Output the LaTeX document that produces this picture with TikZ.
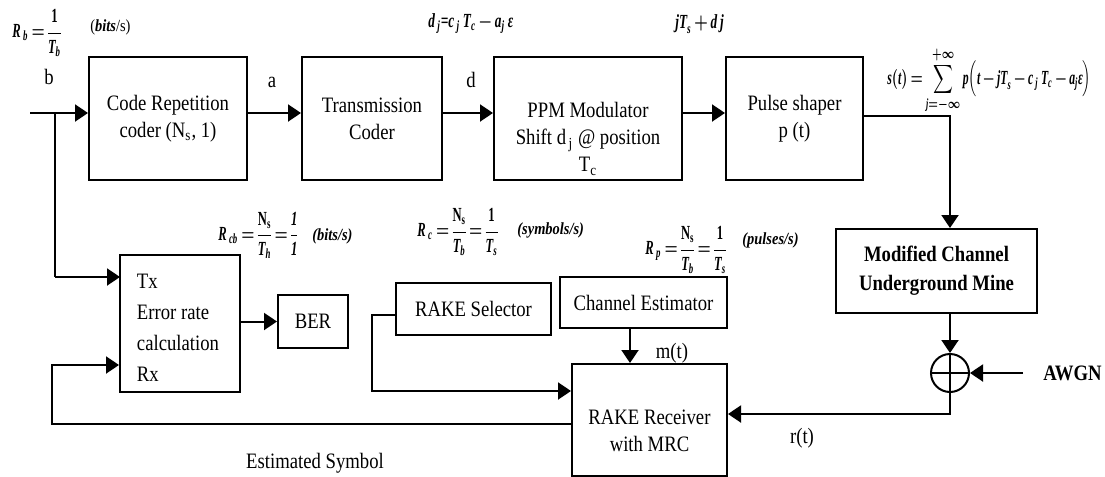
\documentclass[tikz,border=0pt]{standalone}
\usepackage{amsmath}
\usepackage{graphicx}
\usepackage{fontspec}
\setmainfont{Liberation Serif}[FakeStretch=0.85]
\usetikzlibrary{arrows.meta,calc}
\newcommand{\bi}[1]{\textbf{\textit{#1}}}
\newcommand{\bo}{\textbf{\textup{1}}}
\newcommand{\bN}{\textbf{\textup{N}}_{\textbf{\textup{s}}}}
\newcommand{\tightm}{\medmuskip=2.5mu\relax\thickmuskip=3.5mu\relax\nulldelimiterspace=0pt\relax}
\newcommand{\cnd}[1]{\scalebox{0.74}[1]{\tightm#1}}
\newcommand{\cnw}[1]{\scalebox{0.78}[1]{\tightm#1}}
\newcommand{\cndd}[1]{\scalebox{0.69}[1]{\tightm#1}}
\begin{document}
\begin{tikzpicture}[x=0.5pt,y=-0.5pt,
  box/.style={draw,line width=1pt,inner sep=0pt,align=center,font=\fontsize{11}{13.5}\selectfont},
  arr/.style={line width=1pt,-{Triangle[length=6.5pt,width=8.5pt]}},
  ln/.style={line width=1pt},
  lbl/.style={font=\fontsize{11}{13}\selectfont,inner sep=0pt},
  mth/.style={font=\fontsize{10}{11}\selectfont\boldmath\bfseries\itshape,inner sep=0pt,anchor=west},
  unit/.style={font=\fontsize{8.5}{10}\selectfont\bfseries\itshape,inner sep=0pt,anchor=west}]
\useasboundingbox (0,0) rectangle (1105,477);
% blocks
\node[box,minimum width=79pt,minimum height=61.5pt] (rep) at (168,118.5) {Code Repetition\\coder (N\textsubscript{s}, 1)};
\node[box,minimum width=70pt,minimum height=61.5pt] (trans) at (372,118.5) {Transmission\\Coder};
\node[box,minimum width=94pt,minimum height=61.5pt] (ppm) at (588,118.5) {};
\node[lbl,align=center,font=\fontsize{11}{13.5}\selectfont] (ppmtxt) at (588,139) {PPM Modulator\\Shift d\textsubscript{\,j} @ position\\T\textsubscript{c}};
\node[box,minimum width=68.5pt,minimum height=61.5pt] (pulse) at (794.5,118.5) {Pulse shaper\\p (t)};
\node[box,minimum width=60pt,minimum height=68.5pt] (err) at (180,323.5) {};
\node[lbl,align=left,font=\fontsize{11}{15.5}\selectfont] (errtxt) at (178,328) {Tx\\Error rate\\calculation\\Rx};
\node[box,minimum width=35pt,minimum height=26.5pt] (ber) at (313,321.5) {BER};
\node[box,minimum width=77.5pt,minimum height=26pt] (sel) at (473.5,309) {RAKE Selector};
\node[box,minimum width=83.5pt,minimum height=25.5pt] (est) at (643.5,302.5) {Channel Estimator};
\node[box,minimum width=77.5pt,minimum height=56pt] (rake) at (649.5,420) {};
\node[lbl,align=center,font=\fontsize{11}{13.5}\selectfont] (raketxt) at (649.5,431) {RAKE Receiver\\with MRC};
\node[box,minimum width=100.5pt,minimum height=42pt,font=\fontsize{11}{14.5}\selectfont\bfseries] (chan) at (936.5,271) {Modified Channel\\Underground Mine};
\node[draw,circle,line width=1pt,minimum size=19pt,inner sep=0pt] (sum) at (950,373) {};
\draw[ln] (sum.north) -- (sum.south) (sum.west) -- (sum.east);
% coordinates
\coordinate (in) at (30,113);
\coordinate (br) at (55,113);
\coordinate (errin) at (120,277);
\coordinate (pout) at (863,116);
\coordinate (cdrop) at (950,116);
\coordinate (aw) at (1023,373);
\coordinate (rt) at (950,414);
\coordinate (mt) at (630,328);
\coordinate (s1) at (372,315);
\coordinate (s2) at (372,391);
\coordinate (f1) at (52,424);
\coordinate (f2) at (52,365);
% connectors
\draw[arr] (in) -- (rep.west |- in);
\draw[ln] (br) -- (br |- errin);
\draw[arr] (br |- errin) -- (errin);
\draw[arr] (rep.east |- in) -- (trans.west |- in);
\draw[arr] (trans.east |- in) -- (ppm.west |- in);
\draw[arr] (ppm.east |- in) -- (pulse.west |- in);
\draw[arr] (pout) -- (cdrop) -- (cdrop |- chan.north);
\draw[arr] (sum |- chan.south) -- (sum.north);
\draw[arr] (aw) -- (sum.east);
\draw[arr] (sum.south) -- (rt) -- (rake.east |- rt);
\draw[arr] (mt) -- (mt |- rake.north);
\draw[arr] (sel.west |- s1) -- (s1) -- (s2) -- (rake.west |- s2);
\draw[arr] (rake.west |- f1) -- (f1) -- (f2) -- (err.west |- f2);
\draw[arr] (err.east |- ber.west) -- (ber.west);
% labels
\node[lbl,font=\fontsize{11}{13}\selectfont\bfseries,anchor=west] (awgn) at (1043,373) {AWGN};
\node[lbl] (lb) at (49,77) {b};
\node[lbl] (la) at (272,82) {a};
\node[lbl] (ld) at (471,80) {d};
\node[lbl] (lm) at (672,353) {m(t)};
\node[lbl] (lr) at (802,438) {r(t)};
\node[lbl] (les) at (315,463) {Estimated Symbol};
\node[mth] (rb) at (12,33) {\cnd{$\bi{R}_{\,\bi{b}} = \dfrac{\bo}{\bi{T}_{\bi{b}}}$}};
\node[unit,font=\fontsize{8.5}{10}\selectfont] (rbu) at (90,27) {(\bi{bits}/s)};
\node[mth] (dj) at (428,24) {\cnw{$\bi{d}_{\,\bi{j}}\textbf{=}\bi{c}_{\,\bi{j}}\,\bi{T}_{\bi{c}} - \bi{a}_{\bi{j}}\,\bi{ε}$}};
\node[mth] (jts) at (675,24) {\cnw{$\bi{jT}_{\bi{s}} + \bi{d}\,\bi{j}$}};
\node[mth] (st) at (887,80) {\cndd{$\bi{s}(\bi{t}) = \displaystyle\sum_{\bi{j}=-\infty}^{+\infty} \bi{p}\Bigl(\bi{t} - \bi{jT}_{\bi{s}} - \bi{c}_{\,\bi{j}}\,\bi{T}_{\bi{c}} - \bi{a}_{\bi{j}}\bi{ε}\Bigr)$}};
\node[mth] (rcb) at (218,235) {\cnd{$\bi{R}_{\,\bi{cb}} = \dfrac{\bN}{\bi{T}_{\bi{h}}} = \dfrac{\bi{1}}{\bi{1}}$}};
\node[unit] (rcbu) at (312,236) {(bits/s)};
\node[mth] (rc) at (417,232) {\cnd{$\bi{R}_{\,\bi{c}} = \dfrac{\bN}{\bi{T}_{\bi{b}}} = \dfrac{\bo}{\bi{T}_{\bi{s}}}$}};
\node[unit] (rcu) at (517,230) {(symbols/s)};
\node[mth] (rp) at (645,250) {\cnd{$\bi{R}_{\,\bi{p}} = \dfrac{\bN}{\bi{T}_{\bi{b}}} = \dfrac{\bo}{\bi{T}_{\bi{s}}}$}};
\node[unit] (rpu) at (742,240) {(pulses/s)};
\end{tikzpicture}
\end{document}
